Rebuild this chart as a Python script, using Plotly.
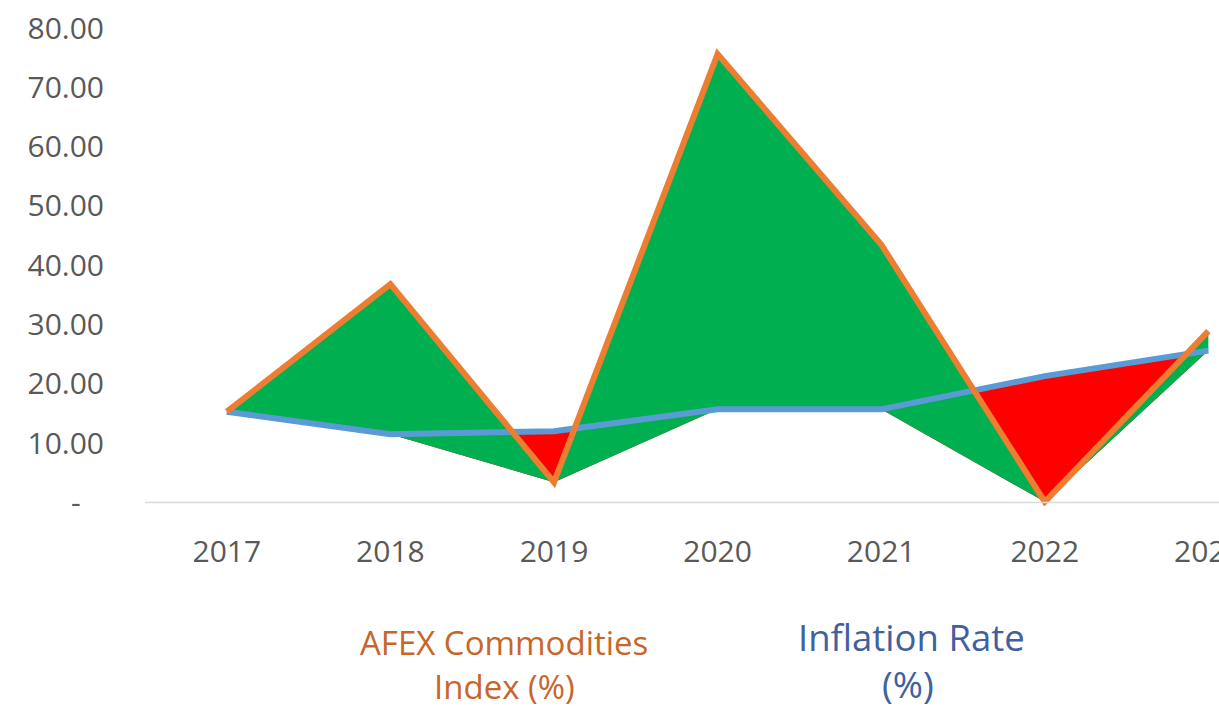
import plotly.graph_objects as go

years = ["2017", "2018", "2019", "2020", "2021", "2022", "2023"]
afex = [15.3, 36.8, 3.4, 75.6, 43.5, 0.1, 28.9]
inflation = [15.3, 11.5, 12.0, 15.7, 15.7, 21.3, 25.6]
ytick_vals = [0, 10, 20, 30, 40, 50, 60, 70, 80]
ytick_text = ["-\u00a0\u00a0\u00a0", "10.00", "20.00", "30.00", "40.00", "50.00", "60.00", "70.00", "80.00"]

lower = [min(a, b) for a, b in zip(afex, inflation)]

ORANGE = "#ED7D31"
BLUE = "#5B9BD5"
GREEN = "#00B050"
RED = "#FF0000"
FONT = "Open Sans"

W, H = 1219, 708
ML, MR, MT, MB = 145, 0, 28, 202
PH = H - MT - MB
PW = W - ML - MR


def px_to_paper_x(px):
    return (px - ML) / PW


def px_to_paper_y(py):
    return (H - MB - py) / PH


fig = go.Figure()
# red band: between the lower of the two series and inflation
fig.add_trace(go.Scatter(x=years, y=lower, mode="lines", line=dict(width=0, color="rgba(0,0,0,0)"),
                         hoverinfo="skip", showlegend=False))
fig.add_trace(go.Scatter(x=years, y=inflation, mode="lines", line=dict(width=0, color=RED),
                         fill="tonexty", fillcolor=RED, hoverinfo="skip", showlegend=False))
# green band: between the lower of the two series and AFEX (drawn on top)
fig.add_trace(go.Scatter(x=years, y=lower, mode="lines", line=dict(width=0, color="rgba(0,0,0,0)"),
                         hoverinfo="skip", showlegend=False))
fig.add_trace(go.Scatter(x=years, y=afex, mode="lines", line=dict(width=0, color=GREEN),
                         fill="tonexty", fillcolor=GREEN, hoverinfo="skip", showlegend=False))
fig.add_trace(go.Scatter(x=years, y=inflation, mode="lines", name="Inflation Rate (%)",
                         line=dict(width=6, color=BLUE), showlegend=False))
fig.add_trace(go.Scatter(x=years, y=afex, mode="lines", name="AFEX Commodities Index (%)",
                         line=dict(width=6, color=ORANGE), showlegend=False))

fig.add_shape(type="line", xref="paper", x0=0, x1=1, yref="y", y0=0, y1=0,
              line=dict(color="#D9D9D9", width=1.5), layer="above")

legend_items = [
    ("AFEX Commodities", 504, 642, 33, "#C8662A"),
    ("Index (%)", 504, 686, 33, "#C8662A"),
    ("Inflation Rate", 911, 637, 36.5, "#41609F"),
    ("(%)", 908, 684, 36.5, "#41609F"),
]
for txt, cx, cy, size, col in legend_items:
    fig.add_annotation(text=txt, xref="paper", yref="paper",
                       x=px_to_paper_x(cx), y=px_to_paper_y(cy),
                       xanchor="center", yanchor="middle", showarrow=False,
                       font=dict(family=FONT, size=size, color=col))

fig.update_layout(
    width=W, height=H, autosize=False,
    margin=dict(l=ML, r=MR, t=MT, b=MB, pad=0),
    paper_bgcolor="white", plot_bgcolor="white",
    showlegend=False,
    xaxis=dict(type="category", range=[-0.5, 6.065], showgrid=False, zeroline=False,
               showline=False, ticks="", automargin=False,
               tickfont=dict(family=FONT, size=30, color="#595959"),
               ticklabelstandoff=25),
    yaxis=dict(range=[-0.6, 80], showgrid=False, zeroline=False, showline=False, ticks="",
               automargin=False, tickvals=ytick_vals, ticktext=ytick_text,
               tickfont=dict(family=FONT, size=30, color="#595959"), ticklabelstandoff=40),
)

fig.write_html("out.html", config={"displayModeBar": False, "responsive": False},
               post_script="document.body.style.margin='0';document.body.style.overflow='hidden';")
